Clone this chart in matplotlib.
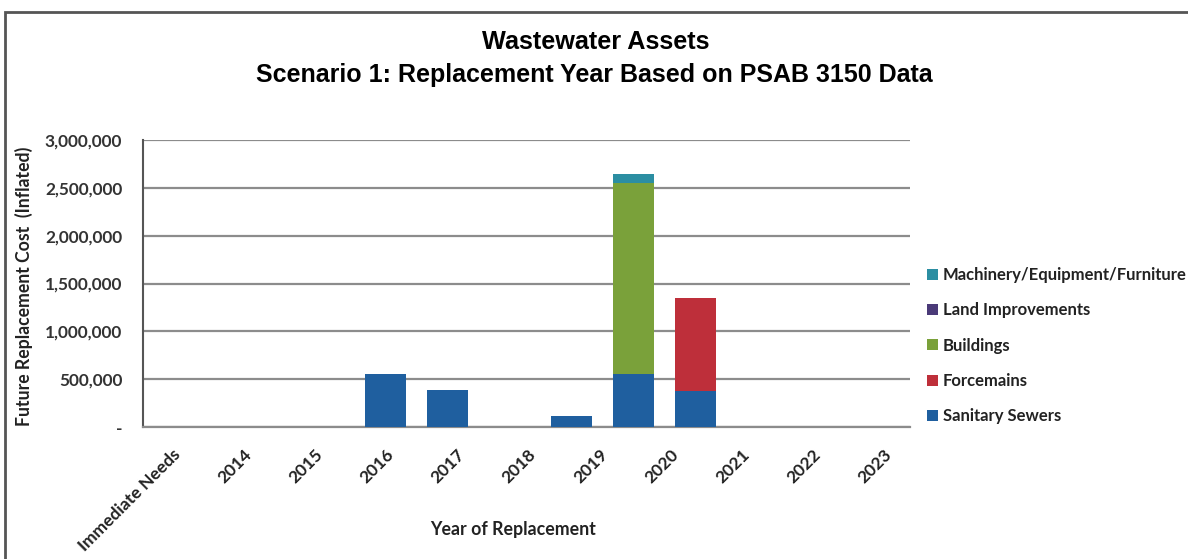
import matplotlib
matplotlib.use("Agg")
import matplotlib.pyplot as plt
import matplotlib.patches as mpatches
import numpy as np

categories = ["Immediate Needs", "2014", "2015", "2016", "2017", "2018",
              "2019", "2020", "2021", "2022", "2023"]
sanitary_sewers = [0, 0, 0, 555000, 387000, 0, 115000, 555000, 377000, 0, 0]
forcemains      = [0, 0, 0, 0, 0, 0, 0, 0, 972000, 0, 0]
buildings       = [0, 0, 0, 0, 0, 0, 0, 2000000, 0, 0, 0]
land_improvements = [0, 0, 0, 0, 0, 0, 0, 0, 0, 0, 0]
machinery       = [0, 0, 0, 0, 0, 0, 0, 90000, 0, 0, 0]

series = [
    ("Sanitary Sewers", sanitary_sewers, "#1f5f9f"),
    ("Forcemains", forcemains, "#be2f3a"),
    ("Buildings", buildings, "#7aa13a"),
    ("Land Improvements", land_improvements, "#4a3a78"),
    ("Machinery/Equipment/Furniture", machinery, "#2b8ea2"),
]

FONT = ["Lato", "DejaVu Sans"]
plt.rcParams["font.family"] = FONT

W, H = 1188, 559
fig = plt.figure(figsize=(W/100, H/100), dpi=100)
ax = fig.add_axes([143/W, 1-427/H, (910-143)/W, (427-140)/H])

x = np.arange(len(categories))
bottom = np.zeros(len(categories))
handles = []
for name, vals, col in series:
    v = np.array(vals, dtype=float)
    b = ax.bar(x, v, width=0.65, bottom=bottom, color=col, label=name, zorder=3)
    bottom += v
    handles.append(b)

ax.set_xlim((143-199.5)/62, (910-199.5)/62)
ax.set_ylim(0, 3000000)
yt = np.arange(0, 3000001, 500000)
ax.set_yticks(yt)
ax.set_yticklabels(["-"] + [f"{int(t):,}" for t in yt[1:]],
                   fontsize=12.4, fontweight="bold", color="#333333")
ax.yaxis.grid(True, color="#8c8c8c", linewidth=1.6, zorder=0)
ax.set_axisbelow(True)
ax.tick_params(axis="y", length=0, pad=15)
ax.set_xticks(x)
ax.set_xticklabels([])
ax.tick_params(axis="x", length=0)
for s in ["top", "right"]:
    ax.spines[s].set_visible(False)
ax.spines["left"].set_color("#555555")
ax.spines["left"].set_linewidth(1.5)
ax.spines["bottom"].set_color("#8c8c8c")
ax.spines["bottom"].set_linewidth(1.6)

# category labels (spaced as in the reference image)
ax2 = ax.twiny()
ax2.xaxis.set_ticks_position("bottom")
ax2.set_xlim((143-172)/71.2, (910-172)/71.2)
ax2.set_xticks(x)
ax2.set_xticklabels(categories, rotation=45, ha="right", va="top",
                    rotation_mode="anchor", fontsize=12.5, fontweight="bold",
                    color="#222222")
ax2.tick_params(axis="x", length=0, pad=14)
for s in ax2.spines.values():
    s.set_visible(False)

ax.set_ylabel("Future Replacement Cost  (Inflated)", fontsize=12.7, fontweight="bold",
              color="#222222")
ax.yaxis.set_label_coords((33-143)/767, 0.49)
fig.text(513/W, 1-530/H, "Year of Replacement", ha="center", va="center",
         fontsize=12.8, fontweight="bold", color="#222222")

fig.text(596/W, 1-42/H, "Wastewater Assets", ha="center", va="center",
         fontsize=18.2, fontweight="bold", family=["Liberation Sans", "DejaVu Sans"])
fig.text(594/W, 1-75/H, "Scenario 1: Replacement Year Based on PSAB 3150 Data",
         ha="center", va="center", fontsize=18, fontweight="bold",
         family=["Liberation Sans", "DejaVu Sans"])

leg = fig.legend(handles[::-1], [s[0] for s in series][::-1],
                 loc="upper left", bbox_to_anchor=(927/W, 1-267/H),
                 frameon=False, fontsize=12, handlelength=0.65, handleheight=0.65,
                 handletextpad=0.3, labelspacing=1.16, borderaxespad=0,
                 borderpad=0)
for t in leg.get_texts():
    t.set_fontweight("bold")
    t.set_color("#222222")

fig.patches.append(mpatches.Rectangle((5/W, -0.05), 1.2, 1-12/H + 0.05,
                                      transform=fig.transFigure, fill=False,
                                      edgecolor="#555555", linewidth=2))

fig.savefig("out.png", dpi=100)
